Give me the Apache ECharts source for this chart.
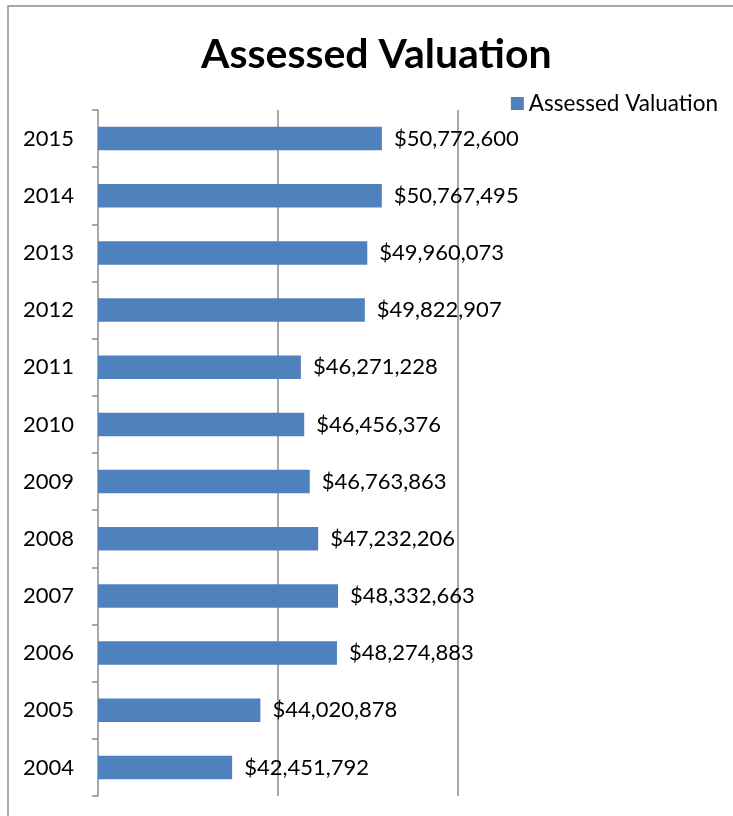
<!DOCTYPE html>
<html>
<head>
<meta charset="utf-8">
<script src="https://cdn.jsdelivr.net/npm/echarts@6/dist/echarts.min.js"></script>
<style>
  html, body { margin: 0; padding: 0; background: #fff; }
  #chart { width: 733px; height: 816px; }
</style>
</head>
<body>
<div id="chart"></div>
<script>
const years = ['2004', '2005', '2006', '2007', '2008', '2009', '2010', '2011', '2012', '2013', '2014', '2015'];
const valuation = [42451792, 44020878, 48274883, 48332663, 47232206, 46763863, 46456376, 46271228, 49822907, 49960073, 50767495, 50772600];
const gridValues = [45000000, 55000000];

const font = 'Lato, "Open Sans", sans-serif';

function money(v) {
    return '$' + v.toLocaleString('en-US');
}

const chart = echarts.init(document.getElementById('chart'));

const option = {
    animation: false,
    graphic: [{
        type: 'rect',
        shape: { x: 8, y: 6, width: 800, height: 900 },
        style: { fill: 'none', stroke: '#8c8c8c', lineWidth: 1.5 },
        silent: true
    }],
    title: {
        text: 'Assessed Valuation',
        left: 196,
        top: 29,
        textStyle: { fontFamily: font, fontSize: 41, fontWeight: 'bold', color: '#000' }
    },
    legend: {
        right: 10,
        top: 87,
        itemWidth: 13,
        itemHeight: 13,
        itemGap: 6,
        icon: 'rect',
        textStyle: { fontFamily: font, fontSize: 22.5, color: '#000' },
        data: ['Assessed Valuation']
    },
    grid: { left: 98, right: 275, top: 110, bottom: 20, containLabel: false },
    xAxis: {
        type: 'value',
        min: 35000000,
        max: 55000000,
        axisLine: { show: false },
        axisTick: { show: false },
        axisLabel: { show: false },
        splitLine: { show: false }
    },
    yAxis: {
        type: 'category',
        data: years,
        axisLine: { lineStyle: { color: '#8c8c8c', width: 1.5 } },
        axisTick: { show: true, length: 6, inside: false, lineStyle: { color: '#8c8c8c', width: 1.5 } },
        axisLabel: { fontFamily: font, fontSize: 22, color: '#000', margin: 24 }
    },
    series: [{
        name: 'Assessed Valuation',
        type: 'bar',
        data: valuation,
        barWidth: '41%',
        itemStyle: { color: '#4f81bd' },
        label: {
            show: true,
            position: 'right',
            distance: 12,
            formatter: p => money(p.value),
            fontFamily: font,
            fontSize: 22,
            color: '#000'
        },
        markLine: {
            silent: true,
            symbol: 'none',
            label: { show: false },
            lineStyle: { color: '#8c8c8c', type: 'solid', width: 1.5 },
            z: 1,
            data: gridValues.map(v => ({ xAxis: v }))
        },
        z: 3
    }]
};

chart.setOption(option);
</script>
</body>
</html>
